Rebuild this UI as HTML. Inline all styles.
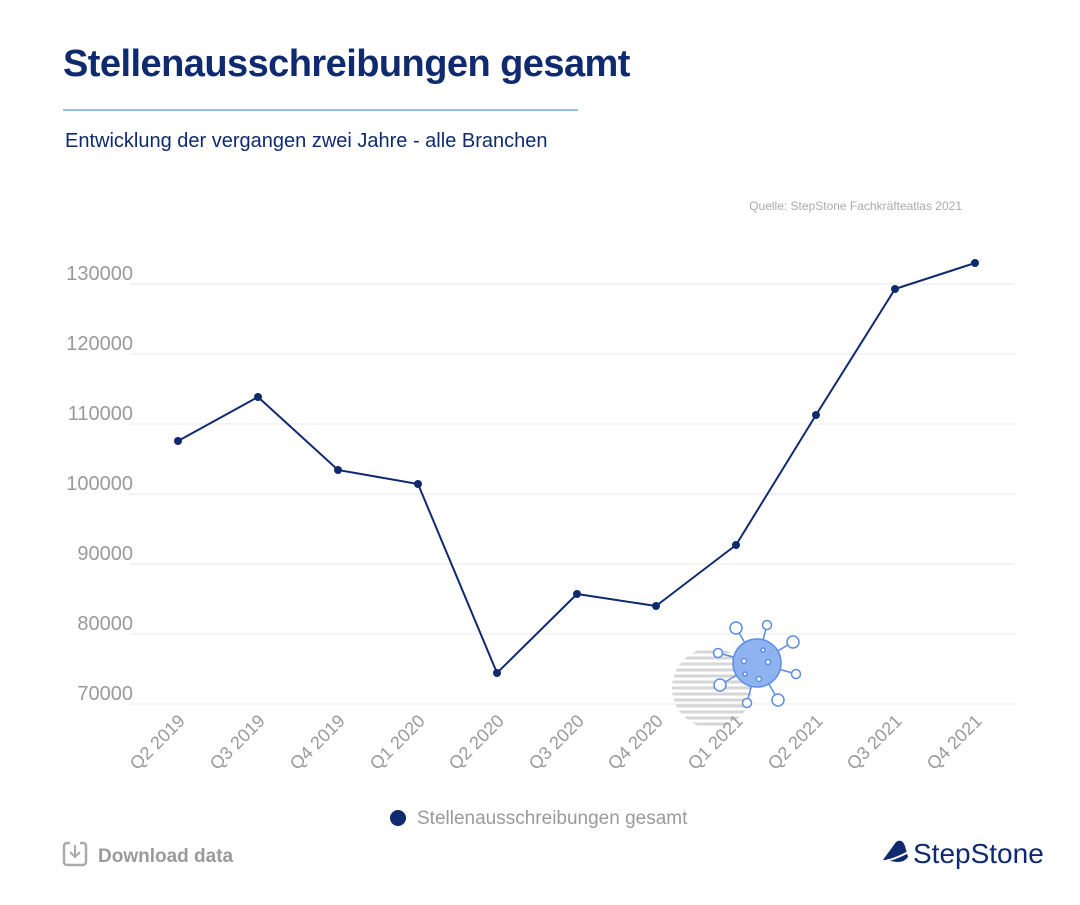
<!DOCTYPE html>
<html><head><meta charset="utf-8"><style>
body{margin:0;width:1080px;height:900px;background:#fff;font-family:"Liberation Sans",sans-serif;overflow:hidden}
</style></head><body>
<svg width="1080" height="900" xmlns="http://www.w3.org/2000/svg" font-family="Liberation Sans, sans-serif">
<text x="63" y="76" font-size="38" font-weight="bold" fill="#0f2a6e" letter-spacing="-0.55">Stellenausschreibungen gesamt</text>
<line x1="63" y1="110" x2="578" y2="110" stroke="#7aa7e6" stroke-width="1.5"/>
<text x="65" y="147" font-size="20" fill="#0f2a6e">Entwicklung der vergangen zwei Jahre - alle Branchen</text>
<text x="962" y="210" font-size="12" fill="#aaa" text-anchor="end">Quelle: StepStone Fachkräfteatlas 2021</text>
<g stroke="#e8e8e8" stroke-width="1">
<line x1="130" y1="284" x2="1015" y2="284"/><line x1="130" y1="354" x2="1015" y2="354"/>
<line x1="130" y1="424" x2="1015" y2="424"/><line x1="130" y1="494" x2="1015" y2="494"/>
<line x1="130" y1="564" x2="1015" y2="564"/><line x1="130" y1="634" x2="1015" y2="634"/>
<line x1="130" y1="704" x2="1015" y2="704"/>
</g>
<g font-size="20" fill="#9a9a9a" text-anchor="end">
<text x="133" y="280">130000</text><text x="133" y="350">120000</text><text x="133" y="420">110000</text>
<text x="133" y="490">100000</text><text x="133" y="560">90000</text><text x="133" y="630">80000</text>
<text x="133" y="700">70000</text>
</g>
<defs><clipPath id="cc"><circle cx="712" cy="688" r="40"/></clipPath></defs>
<g clip-path="url(#cc)" stroke="#d6d6d6" stroke-width="3">
<line x1="670" y1="652" x2="760" y2="652"/><line x1="670" y1="658" x2="760" y2="658"/><line x1="670" y1="664" x2="760" y2="664"/>
<line x1="670" y1="670" x2="760" y2="670"/><line x1="670" y1="676" x2="760" y2="676"/><line x1="670" y1="682" x2="760" y2="682"/>
<line x1="670" y1="688" x2="760" y2="688"/><line x1="670" y1="694" x2="760" y2="694"/><line x1="670" y1="700" x2="760" y2="700"/>
<line x1="670" y1="706" x2="760" y2="706"/><line x1="670" y1="712" x2="760" y2="712"/><line x1="670" y1="718" x2="760" y2="718"/>
<line x1="670" y1="724" x2="760" y2="724"/>
</g>
<g stroke="#5b8de0" stroke-width="1.5" fill="#fff">
<line x1="757" y1="663" x2="736" y2="628"/><circle cx="736" cy="628" r="6"/>
<line x1="757" y1="663" x2="767" y2="625"/><circle cx="767" cy="625" r="4.5"/>
<line x1="757" y1="663" x2="793" y2="642"/><circle cx="793" cy="642" r="6"/>
<line x1="757" y1="663" x2="796" y2="674"/><circle cx="796" cy="674" r="4.5"/>
<line x1="757" y1="663" x2="778" y2="700"/><circle cx="778" cy="700" r="6"/>
<line x1="757" y1="663" x2="747" y2="703"/><circle cx="747" cy="703" r="4.5"/>
<line x1="757" y1="663" x2="720" y2="685"/><circle cx="720" cy="685" r="6"/>
<line x1="757" y1="663" x2="718" y2="653"/><circle cx="718" cy="653" r="4.5"/>
<circle cx="757" cy="663" r="24" fill="#8fb3f0"/>
<circle cx="744" cy="661" r="2.5"/><circle cx="763" cy="650" r="2"/><circle cx="768" cy="662" r="2.5"/>
<circle cx="759" cy="679" r="2.5"/><circle cx="745" cy="674" r="2"/>
</g>
<polyline fill="none" stroke="#0f2a6e" stroke-width="2" points="178,441 258,397 338,470 418,484 497,673 577,594 656,606 736,545 816,415 895,289 975,263"/>
<g fill="#0f2a6e">
<circle cx="178" cy="441" r="4"/><circle cx="258" cy="397" r="4"/><circle cx="338" cy="470" r="4"/>
<circle cx="418" cy="484" r="4"/><circle cx="497" cy="673" r="4"/><circle cx="577" cy="594" r="4"/>
<circle cx="656" cy="606" r="4"/><circle cx="736" cy="545" r="4"/><circle cx="816" cy="415" r="4"/>
<circle cx="895" cy="289" r="4"/><circle cx="975" cy="263" r="4"/>
</g>
<g font-size="18" fill="#9a9a9a" text-anchor="end">
<text transform="translate(186,722) rotate(-45)">Q2 2019</text>
<text transform="translate(266,722) rotate(-45)">Q3 2019</text>
<text transform="translate(346,722) rotate(-45)">Q4 2019</text>
<text transform="translate(426,722) rotate(-45)">Q1 2020</text>
<text transform="translate(505,722) rotate(-45)">Q2 2020</text>
<text transform="translate(585,722) rotate(-45)">Q3 2020</text>
<text transform="translate(664,722) rotate(-45)">Q4 2020</text>
<text transform="translate(744,722) rotate(-45)">Q1 2021</text>
<text transform="translate(824,722) rotate(-45)">Q2 2021</text>
<text transform="translate(903,722) rotate(-45)">Q3 2021</text>
<text transform="translate(983,722) rotate(-45)">Q4 2021</text>
</g>
<circle cx="398" cy="818" r="8" fill="#0f2a6e"/>
<text x="417" y="824" font-size="19" fill="#9a9a9a">Stellenausschreibungen gesamt</text>
<rect x="64" y="843" width="22" height="22" rx="3" fill="none" stroke="#aaa" stroke-width="2.5"/>
<rect x="70" y="841" width="10" height="5" fill="#fff"/>
<path d="M75 845 V857 M70 852 L75 857 L80 852" stroke="#aaa" stroke-width="2" fill="none"/>
<text x="98" y="862" font-size="19" font-weight="bold" fill="#9a9a9a">Download data</text>
<path d="M883 860 L896 842 Q902 838 905 846 L908 857 Q905 862 897 862 Z" fill="#0f2a6e"/>
<path d="M880 862 Q895 860 912 850" stroke="#fff" stroke-width="2" fill="none"/>
<text x="913" y="863" font-size="28" fill="#0f2a6e">StepStone</text>
</svg>
</body></html>
